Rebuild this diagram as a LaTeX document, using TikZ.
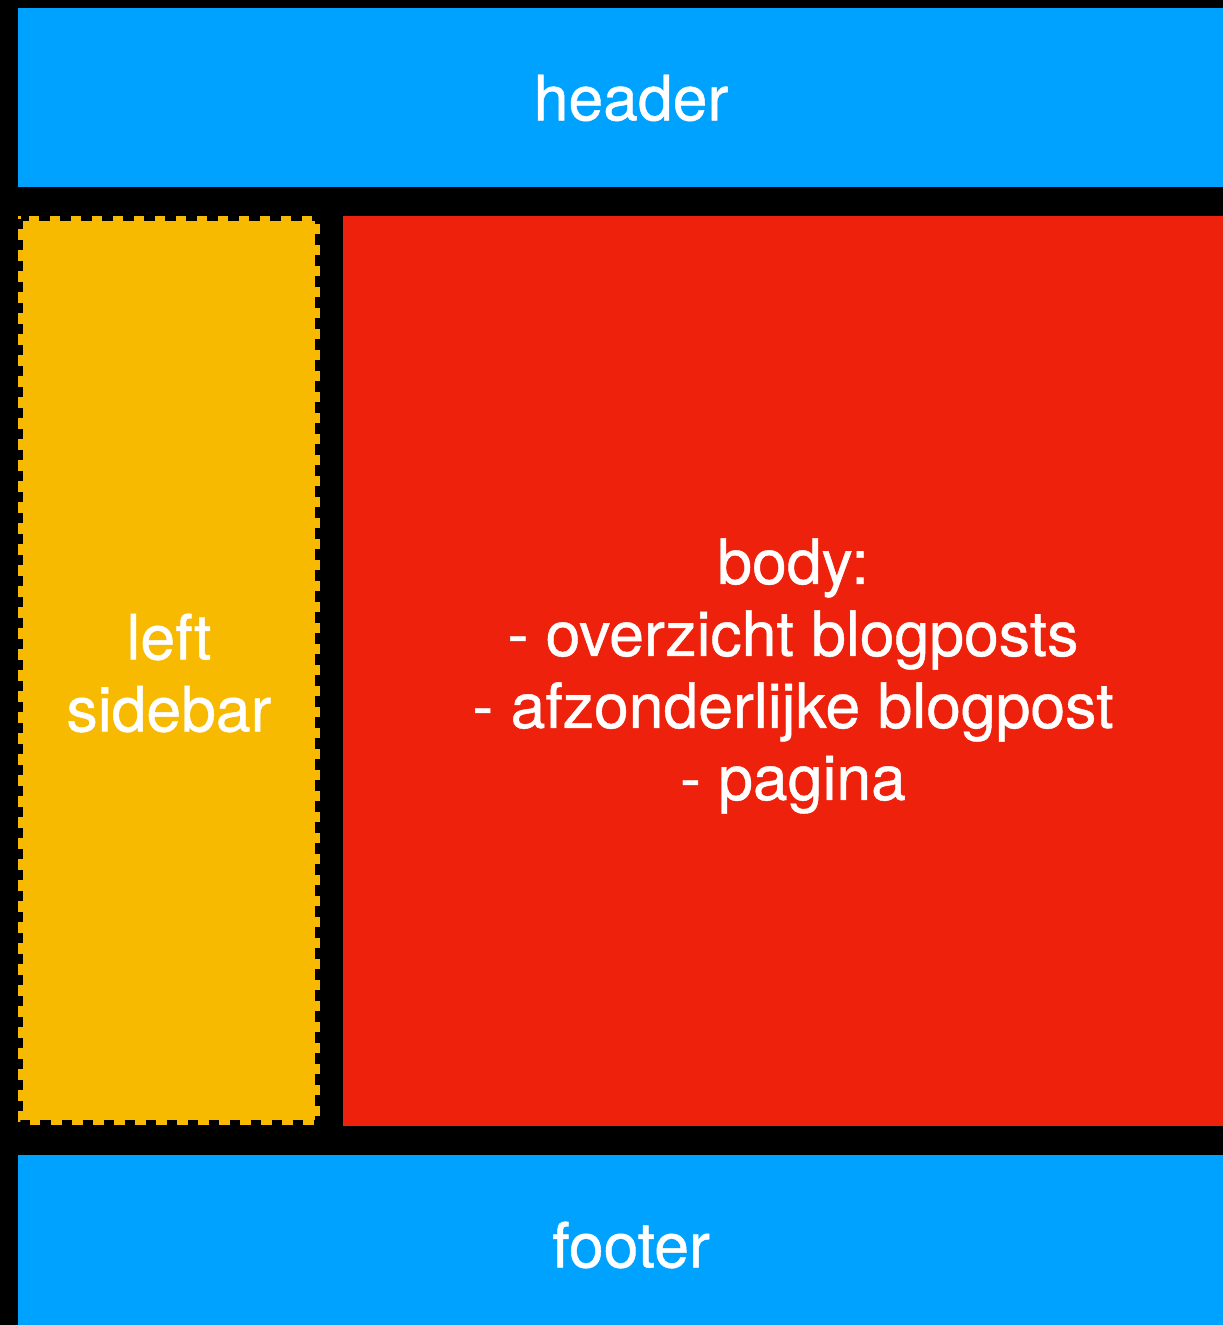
\documentclass[tikz,border=0pt]{standalone}
\usepackage{fontspec}
\setmainfont{TeX Gyre Heros}
\newfontfamily\lblfont{TeX Gyre Heros}[FakeBold=0.7]
\definecolor{kblue}{HTML}{00A2FF}
\definecolor{kred}{HTML}{EE220C}
\definecolor{kyellow}{HTML}{F8BA00}
\begin{document}
\begin{tikzpicture}[x=1pt,y=-1pt,
  lbl/.style={text=white,align=center,font=\lblfont\fontsize{62.5}{72}\selectfont,inner sep=0pt}]
\fill[black] (0,0) rectangle (1223,1325);
\useasboundingbox (0,0) rectangle (1223,1325);
\fill[kblue] (18,8) rectangle (1223,187);
\fill[kyellow] (18,216) rectangle (320,1125);
\draw[black,line width=5.5pt,dash pattern=on 10.5pt off 10.5pt] (20.5,218.5) rectangle (317.5,1122.5);
\fill[kred] (343,216) rectangle (1223,1126);
\fill[kblue] (18,1155) rectangle (1223,1325);
\node[lbl] (header) at (631,98) {header};
\node[lbl] (sidebar) at (169,673) {left\\sidebar};
\node[lbl] (body) at (793,676) {body:\\- overzicht blogposts\\- afzonderlijke blogpost\\- pagina};
\node[lbl] (footer) at (631,1245) {footer};
\end{tikzpicture}
\end{document}
